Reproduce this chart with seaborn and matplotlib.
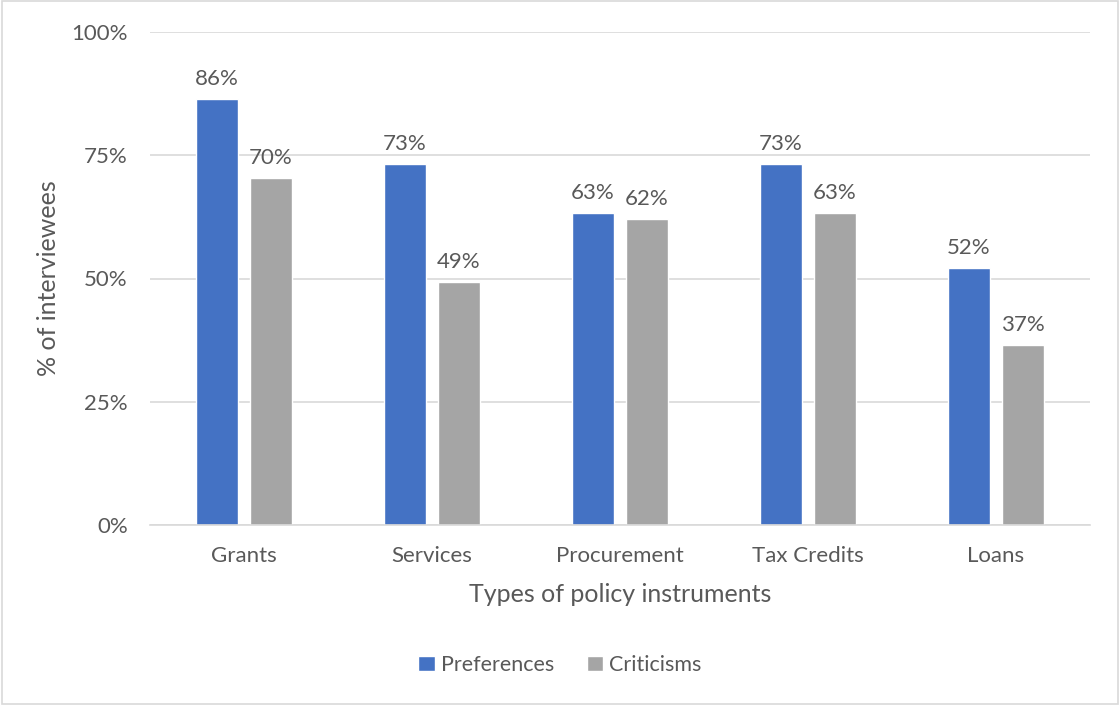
import matplotlib
matplotlib.use("Agg")
import matplotlib.pyplot as plt
import seaborn as sns
import pandas as pd
from matplotlib.patches import Rectangle
from matplotlib.ticker import PercentFormatter

categories = ["Grants", "Services", "Procurement", "Tax Credits", "Loans"]
preferences = [86.4, 73.2, 63.3, 73.2, 52.1]
criticisms = [70.4, 49.3, 62.1, 63.3, 36.6]
series_names = ["Preferences", "Criticisms"]
y_ticks = [0, 25, 50, 75, 100]

sns.set_style("white")
plt.rcParams["font.family"] = ["Lato", "DejaVu Sans"]

text_color = "#595959"
colors = ["#4472C4", "#A5A5A5"]

df = pd.DataFrame({
    "category": categories * 2,
    "series": [series_names[0]] * len(categories) + [series_names[1]] * len(categories),
    "value": preferences + criticisms,
})

fig = plt.figure(figsize=(11.2, 7.05), dpi=100)
ax = fig.add_axes([150 / 1120, 1 - 525 / 705, 940 / 1120, 493 / 705])

sns.barplot(data=df, x="category", y="value", hue="series", palette=colors,
            width=0.5745, gap=0.222, ax=ax, legend=True, saturation=1)

ax.set_ylim(0, 100)
ax.set_xlim(-0.5, len(categories) - 0.5)
ax.set_yticks(y_ticks)
ax.yaxis.set_major_formatter(PercentFormatter(decimals=0))
ax.grid(axis="y", color="#D9D9D9", linewidth=1.2)
ax.set_axisbelow(True)
for side in ["top", "right", "left"]:
    ax.spines[side].set_visible(False)
ax.spines["bottom"].set_color("#D9D9D9")
ax.spines["bottom"].set_linewidth(1.2)
ax.tick_params(axis="both", length=0, labelsize=16, colors=text_color)
ax.tick_params(axis="y", pad=16)
ax.tick_params(axis="x", pad=15)

ax.set_xlabel("Types of policy instruments", fontsize=18, color=text_color, labelpad=12)
ax.set_ylabel("% of interviewees", fontsize=18, color=text_color, labelpad=8)

for container in ax.containers:
    ax.bar_label(container, labels=[f"{v:.0f}%" for v in container.datavalues],
                 padding=7, fontsize=16, color=text_color)

handles, labels = ax.get_legend_handles_labels()
ax.legend(handles, labels, loc="center", bbox_to_anchor=(0.5, 1 - 665 / 705),
          bbox_transform=fig.transFigure, ncol=2, frameon=False, fontsize=15.5,
          labelcolor=text_color, handlelength=0.75, handleheight=0.75,
          handletextpad=0.3, columnspacing=1.5)

fig.patches.append(Rectangle((0.002, 0.002), 0.996, 0.996, transform=fig.transFigure,
                             fill=False, edgecolor="#D9D9D9", linewidth=1.2))

fig.savefig("out.png", dpi=100)
